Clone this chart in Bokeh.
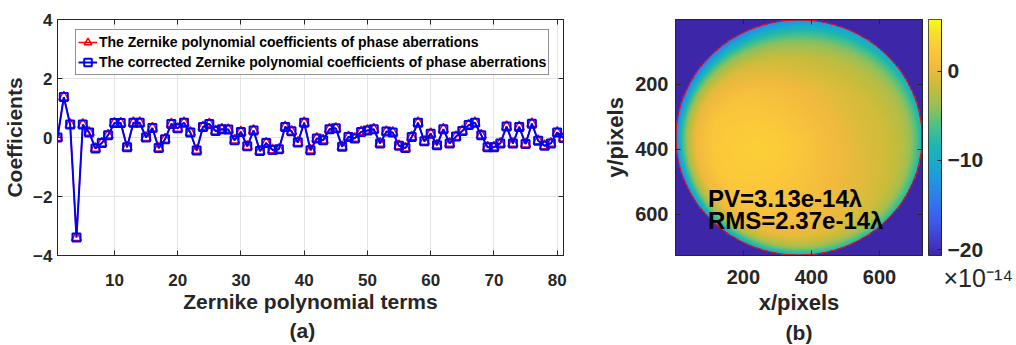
import numpy as np
from bokeh.plotting import figure
from bokeh.layouts import row
from bokeh.models import (Range1d, FixedTicker, LinearAxis, Legend, LegendItem,
                          LinearColorMapper, Title)
from bokeh.embed import file_html
from bokeh.resources import INLINE
from bokeh.core.properties import value

# ---------------- data: panel (a) ----------------
terms = list(range(1, 82))
coeffs = [0.00, 1.37, 0.44, -3.39, 0.44, 0.17, -0.37, -0.19, 0.08, 0.49,
          0.49, -0.33, 0.50, 0.50, 0.00, 0.32, -0.36, -0.06, 0.46, 0.31,
          0.50, 0.17, -0.44, 0.36, 0.46, 0.22, 0.28, 0.27, -0.09, 0.19,
          -0.30, 0.24, -0.46, -0.19, -0.42, -0.40, 0.36, 0.21, -0.17, 0.50,
          -0.43, -0.03, -0.09, 0.28, 0.31, -0.31, 0.02, -0.03, 0.19, 0.24,
          0.28, -0.20, 0.20, 0.17, -0.28, -0.36, 0.02, 0.50, -0.13, 0.13,
          -0.26, 0.28, -0.20, 0.03, 0.22, 0.42, 0.50, 0.08, -0.33, -0.33,
          -0.20, 0.37, -0.20, 0.36, -0.22, 0.47, -0.11, -0.28, -0.20, 0.17,
          -0.02]
corrected = [0.00, 1.37, 0.44, -3.39, 0.44, 0.17, -0.37, -0.19, 0.08, 0.49,
             0.49, -0.33, 0.50, 0.50, 0.00, 0.32, -0.36, -0.06, 0.46, 0.31,
             0.50, 0.17, -0.44, 0.36, 0.46, 0.22, 0.28, 0.27, -0.09, 0.19,
             -0.30, 0.24, -0.46, -0.19, -0.42, -0.40, 0.36, 0.21, -0.17, 0.50,
             -0.43, -0.03, -0.09, 0.28, 0.31, -0.31, 0.02, -0.03, 0.19, 0.24,
             0.28, -0.20, 0.20, 0.17, -0.28, -0.36, 0.02, 0.50, -0.13, 0.13,
             -0.26, 0.28, -0.20, 0.03, 0.22, 0.42, 0.50, 0.08, -0.33, -0.33,
             -0.20, 0.37, -0.20, 0.36, -0.22, 0.47, -0.11, -0.28, -0.20, 0.17,
             -0.02]
a_xticks = [10, 20, 30, 40, 50, 60, 70, 80]
a_yticks = [-4, -2, 0, 2, 4]
legend_labels = ["The Zernike polynomial coefficients of phase aberrations",
                 "The corrected Zernike polynomial coefficients of phase aberrations"]

# ---------------- data: panel (b) ----------------
img_size = 726
b_ticks = [200, 400, 600]
cbar_ticks = [-20, -10, 0]
c_min, c_max = -20.66, 5.8          # colour limits (x 1e-14)
cbar_multiplier = "\u00d710\u207b\u00b9\u2074"
pupil_center = 363.5
pupil_radius = 362
rho_pts = [0.0, 0.70, 0.84, 0.91, 0.95, 0.98, 1.0]
drop_pts = [0.0, 0.04, 0.15, 0.35, 0.60, 0.85, 1.0]
edge_depth_right, edge_depth_bottom, edge_depth_left, edge_depth_top = 7.0, 10.0, 17.0, 12.0
band_width_top = 2.0
base_level = 0.2
spot_x, spot_y, spot_sigma, spot_amp = 270.0, 380.0, 150.0, 2.4
tilt_x, tilt_y = -2.0, 0.8
stats_text = ["PV=3.13e-14\u03bb", "RMS=2.37e-14\u03bb"]
stats_x = [96, 96]
stats_y = [550, 620]

# parula-like colour map
parula_pos = [0.0, 0.05, 0.15, 0.27, 0.38, 0.47, 0.56, 0.64, 0.72, 0.80, 0.88, 0.95, 1.0]
parula_hex = ["#3E26A8", "#4237C8", "#3D5CF0", "#2A86E8", "#18A8D3", "#1DB7B0", "#55C180",
              "#9CBF55", "#C9BC3A", "#F2BA3E", "#FCC93A", "#F6E12A", "#F9FB15"]

FONT = "Liberation Sans"
TXT = "#262626"


def hex2rgb(h):
    return [int(h[i:i + 2], 16) for i in (1, 3, 5)]


rgb = np.array([hex2rgb(h) for h in parula_hex], dtype=float)
t = np.linspace(0, 1, 256)
palette = []
for k in range(256):
    cc = [int(round(np.interp(t[k], parula_pos, rgb[:, j]))) for j in range(3)]
    palette.append("#%02x%02x%02x" % tuple(cc))
mapper = LinearColorMapper(palette=palette, low=c_min, high=c_max)


def style_axis(ax, size="17px"):
    ax.axis_line_color = TXT
    ax.major_tick_line_color = TXT
    ax.major_tick_in = 5
    ax.major_tick_out = 0
    ax.minor_tick_line_color = None
    ax.major_label_text_font = FONT
    ax.major_label_text_font_style = "bold"
    ax.major_label_text_font_size = size
    ax.major_label_text_color = TXT
    ax.major_label_text_line_height = 1.0
    ax.axis_label_text_font = FONT
    ax.axis_label_text_font_style = "bold"
    ax.axis_label_text_font_size = "21px"
    ax.axis_label_text_color = TXT
    ax.axis_label_text_line_height = 1.0


def tick_only_axis(ticks):
    ax = LinearAxis(ticker=FixedTicker(ticks=ticks))
    ax.axis_line_color = TXT
    ax.major_tick_line_color = TXT
    ax.major_tick_in = 5
    ax.major_tick_out = 0
    ax.minor_tick_line_color = None
    ax.major_label_text_color = None
    ax.major_label_text_font_size = "1px"
    ax.major_label_standoff = 0
    return ax


def panel_title(text, size, standoff, align="center", offset=0):
    return Title(text=text, align=align, offset=offset, standoff=standoff, text_font=FONT,
                 text_font_style="bold", text_font_size=size, text_color=TXT,
                 text_line_height=1.0)


# ---------------- panel (a) ----------------
p = figure(width=600, height=345, x_range=Range1d(1, 81), y_range=Range1d(-4, 4),
           output_backend="svg", toolbar_location=None,
           min_border_left=56, min_border_right=37, min_border_top=19, min_border_bottom=86)
p.outline_line_color = TXT

r_line = p.line(terms, coeffs, line_color="red", line_width=1.5)
r_mark = p.scatter(terms, coeffs, marker="triangle", size=10, fill_color=None,
                   line_color="red", line_width=1.5)
b_line = p.line(terms, corrected, line_color="blue", line_width=2)
b_mark = p.scatter(terms, corrected, marker="square", size=8, fill_color=None,
                   line_color="blue", line_width=2)

p.xaxis.ticker = FixedTicker(ticks=a_xticks)
p.yaxis.ticker = FixedTicker(ticks=a_yticks)
p.xaxis.axis_label = "Zernike polynomial terms"
p.yaxis.axis_label = "Coefficients"
style_axis(p.xaxis[0])
style_axis(p.yaxis[0])
p.xaxis[0].major_label_standoff = 18
p.yaxis[0].major_label_standoff = 5
p.xaxis[0].axis_label_standoff = 1
p.yaxis[0].axis_label_standoff = 4
p.xgrid.ticker = FixedTicker(ticks=a_xticks)
p.ygrid.ticker = FixedTicker(ticks=a_yticks)
p.xgrid.grid_line_color = "#E3E3E3"
p.ygrid.grid_line_color = "#E3E3E3"
p.add_layout(tick_only_axis(a_xticks), "above")
p.add_layout(tick_only_axis(a_yticks), "right")

legend = Legend(items=[LegendItem(label=legend_labels[0], renderers=[r_line, r_mark]),
                       LegendItem(label=legend_labels[1], renderers=[b_line, b_mark])],
                location=(18, 180))
legend.label_text_font = FONT
legend.label_text_font_style = "bold"
legend.label_text_font_size = "14px"
legend.label_text_color = "black"
legend.border_line_color = TXT
legend.border_line_width = 1
legend.padding = 2
legend.spacing = 0
legend.margin = 0
legend.label_standoff = 2
legend.glyph_width = 19
legend.glyph_height = 20
legend.label_height = 20
p.add_layout(legend)
p.add_layout(panel_title("(a)", "21px", 3, "left", 232), "below")

# ---------------- panel (b) ----------------
N = 363
xs = 0.5 + (np.arange(N) + 0.5) * img_size / N
X, Y = np.meshgrid(xs, xs)
dx = X - pupil_center
dy = Y - pupil_center
rho = np.hypot(dx, dy) / pupil_radius
th = np.arctan2(dy, dx)
a0 = (edge_depth_right + edge_depth_left + edge_depth_top + edge_depth_bottom) / 4
a1 = (edge_depth_right - edge_depth_left) / 2
b1 = (edge_depth_bottom - edge_depth_top) / 2
a2 = ((edge_depth_right + edge_depth_left) - (edge_depth_top + edge_depth_bottom)) / 4
depth = a0 + a1 * np.cos(th) + b1 * np.sin(th) + a2 * np.cos(2 * th)
band = 1.0 + (band_width_top - 1.0) * np.clip(-np.sin(th), 0, 1) ** 2
rho_eff = np.clip(1.0 - (1.0 - np.minimum(rho, 1.0)) / band, 0, 1)
field = (base_level
         + spot_amp * np.exp(-((X - spot_x) ** 2 + (Y - spot_y) ** 2) / (2 * spot_sigma ** 2))
         + tilt_x * dx / pupil_radius + tilt_y * dy / pupil_radius
         - depth * np.interp(rho_eff, rho_pts, drop_pts))
field[rho > 1.0] = c_min

q = figure(width=328, height=345, x_range=Range1d(0.5, img_size + 0.5),
           y_range=Range1d(img_size + 0.5, 0.5),
           output_backend="svg", toolbar_location=None,
           min_border_left=75, min_border_right=6, min_border_top=16, min_border_bottom=90)
q.outline_line_color = TXT
q.grid.visible = False
q.image(image=[field], x=0.5, y=0.5, dw=img_size, dh=img_size, color_mapper=mapper)
q.ellipse(x=pupil_center, y=pupil_center, width=2 * pupil_radius, height=2 * pupil_radius,
          fill_color=None, line_color="red", line_width=1)
q.text(x=stats_x, y=stats_y, text=stats_text, text_font=value(FONT), text_font_style="bold",
       text_font_size="24px", text_color="black", text_baseline="alphabetic")
q.xaxis.ticker = FixedTicker(ticks=b_ticks)
q.yaxis.ticker = FixedTicker(ticks=b_ticks)
q.xaxis.axis_label = "x/pixels"
q.yaxis.axis_label = "y/pixels"
style_axis(q.xaxis[0], "20px")
style_axis(q.yaxis[0], "20px")
q.xaxis[0].axis_label_text_font_size = "22px"
q.yaxis[0].axis_label_text_font_size = "22px"
q.xaxis[0].major_label_standoff = 14
q.yaxis[0].major_label_standoff = 7
q.xaxis[0].axis_label_standoff = 3
q.yaxis[0].axis_label_standoff = 4
q.add_layout(tick_only_axis(b_ticks), "above")
q.add_layout(tick_only_axis(b_ticks), "right")
q.add_layout(panel_title("(b)", "21px", 3), "below")

# ---------------- colour bar ----------------
c = figure(width=88, height=345, x_range=Range1d(0, 1), y_range=Range1d(c_min, c_max),
           output_backend="svg", toolbar_location=None, x_axis_location=None,
           y_axis_location="right",
           min_border_left=0, min_border_right=75, min_border_top=16, min_border_bottom=90)
c.outline_line_color = TXT
c.grid.visible = False
grad = np.linspace(c_min, c_max, 256).reshape(-1, 1)
c.image(image=[grad], x=0, y=c_min, dw=1, dh=c_max - c_min, color_mapper=mapper)
c.yaxis.ticker = FixedTicker(ticks=cbar_ticks)
style_axis(c.yaxis[0], "21px")
c.yaxis[0].major_tick_in = 4
c.yaxis[0].major_label_standoff = 6
c.add_layout(Title(text=cbar_multiplier, align="left", offset=15, standoff=12,
                   text_font=FONT, text_font_style="normal", text_font_size="25px",
                   text_color=TXT), "below")

layout = row(p, q, c)
open("out.html", "w").write(file_html(layout, INLINE))
